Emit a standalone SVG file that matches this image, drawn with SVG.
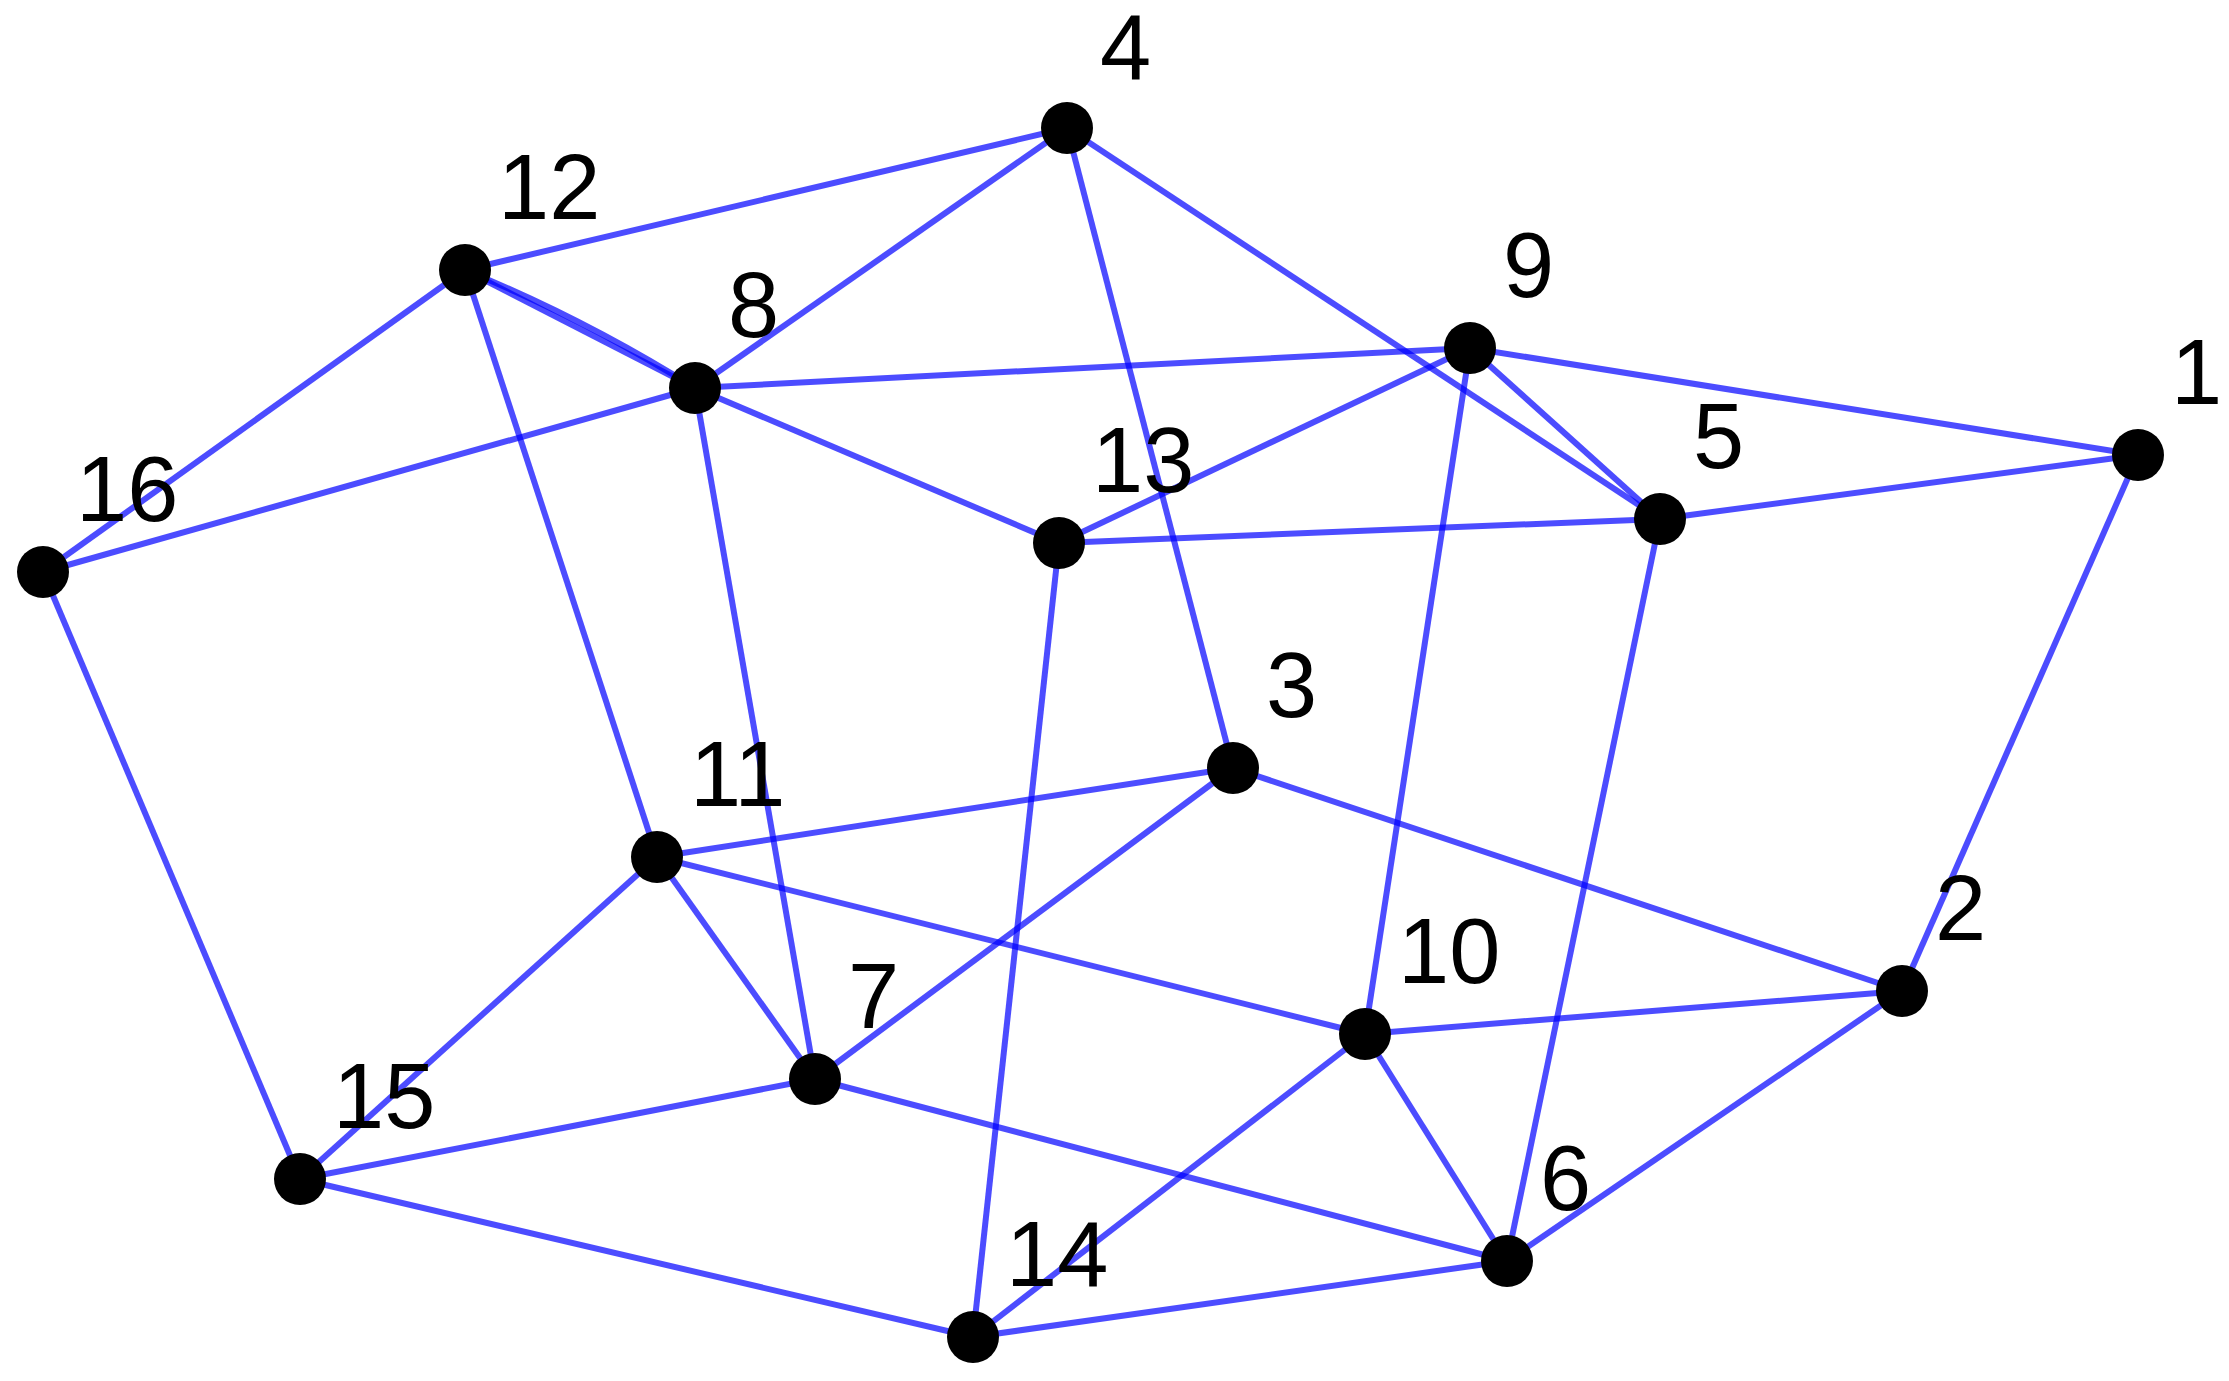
<svg xmlns="http://www.w3.org/2000/svg" width="2229" height="1381" viewBox="0 0 2229 1381">
<style>
.e{stroke:#0000ff;stroke-opacity:0.7;stroke-width:6;fill:none}
.n{fill:#000}
.l{font-family:"Liberation Sans",Arial,sans-serif;font-size:92px;fill:#000}
</style>
<rect width="2229" height="1381" fill="#fff"/>
<g id="edges">
<line class="e" x1="465" y1="270" x2="1067" y2="128"/>
<line class="e" x1="695" y1="388" x2="1067" y2="128"/>
<line class="e" x1="1067" y1="128" x2="1233" y2="768"/>
<line class="e" x1="1067" y1="128" x2="1660" y2="519"/>
<line class="e" x1="465" y1="270" x2="695" y2="388"/>
<path class="e" d="M465,270 Q585,319 695,388"/>
<line class="e" x1="465" y1="270" x2="43" y2="572"/>
<line class="e" x1="465" y1="270" x2="657" y2="857"/>
<line class="e" x1="695" y1="388" x2="1470" y2="348"/>
<line class="e" x1="695" y1="388" x2="43" y2="572"/>
<line class="e" x1="695" y1="388" x2="1059" y2="543"/>
<line class="e" x1="695" y1="388" x2="815" y2="1079"/>
<line class="e" x1="1470" y1="348" x2="1059" y2="543"/>
<line class="e" x1="1470" y1="348" x2="1660" y2="519"/>
<line class="e" x1="1470" y1="348" x2="2138" y2="455"/>
<line class="e" x1="1470" y1="348" x2="1365" y2="1034"/>
<line class="e" x1="1059" y1="543" x2="1660" y2="519"/>
<line class="e" x1="1059" y1="543" x2="973" y2="1337"/>
<line class="e" x1="1660" y1="519" x2="2138" y2="455"/>
<line class="e" x1="1660" y1="519" x2="1507" y2="1261"/>
<line class="e" x1="2138" y1="455" x2="1902" y2="991"/>
<line class="e" x1="1233" y1="768" x2="657" y2="857"/>
<line class="e" x1="1233" y1="768" x2="815" y2="1079"/>
<line class="e" x1="1233" y1="768" x2="1902" y2="991"/>
<line class="e" x1="657" y1="857" x2="1365" y2="1034"/>
<line class="e" x1="657" y1="857" x2="300" y2="1179"/>
<line class="e" x1="657" y1="857" x2="815" y2="1079"/>
<line class="e" x1="1365" y1="1034" x2="1902" y2="991"/>
<line class="e" x1="1365" y1="1034" x2="973" y2="1337"/>
<line class="e" x1="1365" y1="1034" x2="1507" y2="1261"/>
<line class="e" x1="1902" y1="991" x2="1507" y2="1261"/>
<line class="e" x1="815" y1="1079" x2="300" y2="1179"/>
<line class="e" x1="815" y1="1079" x2="1507" y2="1261"/>
<line class="e" x1="300" y1="1179" x2="973" y2="1337"/>
<line class="e" x1="300" y1="1179" x2="43" y2="572"/>
<line class="e" x1="973" y1="1337" x2="1507" y2="1261"/>
</g>
<g id="n1"><circle class="n" cx="2138" cy="455" r="26"/><text class="l" x="2171" y="404">1</text></g>
<g id="n2"><circle class="n" cx="1902" cy="991" r="26"/><text class="l" x="1935" y="940">2</text></g>
<g id="n3"><circle class="n" cx="1233" cy="768" r="26"/><text class="l" x="1266" y="717">3</text></g>
<g id="n4"><circle class="n" cx="1067" cy="128" r="26"/><text class="l" x="1100" y="79">4</text></g>
<g id="n5"><circle class="n" cx="1660" cy="519" r="26"/><text class="l" x="1693" y="468">5</text></g>
<g id="n6"><circle class="n" cx="1507" cy="1261" r="26"/><text class="l" x="1540" y="1210">6</text></g>
<g id="n7"><circle class="n" cx="815" cy="1079" r="26"/><text class="l" x="848" y="1028">7</text></g>
<g id="n8"><circle class="n" cx="695" cy="388" r="26"/><text class="l" x="728" y="337">8</text></g>
<g id="n9"><circle class="n" cx="1470" cy="348" r="26"/><text class="l" x="1503" y="297">9</text></g>
<g id="n10"><circle class="n" cx="1365" cy="1034" r="26"/><text class="l" x="1398" y="983">10</text></g>
<g id="n11"><circle class="n" cx="657" cy="857" r="26"/><text class="l" x="690" y="806">11</text></g>
<g id="n12"><circle class="n" cx="465" cy="270" r="26"/><text class="l" x="498" y="219">12</text></g>
<g id="n13"><circle class="n" cx="1059" cy="543" r="26"/><text class="l" x="1092" y="492">13</text></g>
<g id="n14"><circle class="n" cx="973" cy="1337" r="26"/><text class="l" x="1006" y="1286">14</text></g>
<g id="n15"><circle class="n" cx="300" cy="1179" r="26"/><text class="l" x="333" y="1128">15</text></g>
<g id="n16"><circle class="n" cx="43" cy="572" r="26"/><text class="l" x="76" y="521">16</text></g>
</svg>
